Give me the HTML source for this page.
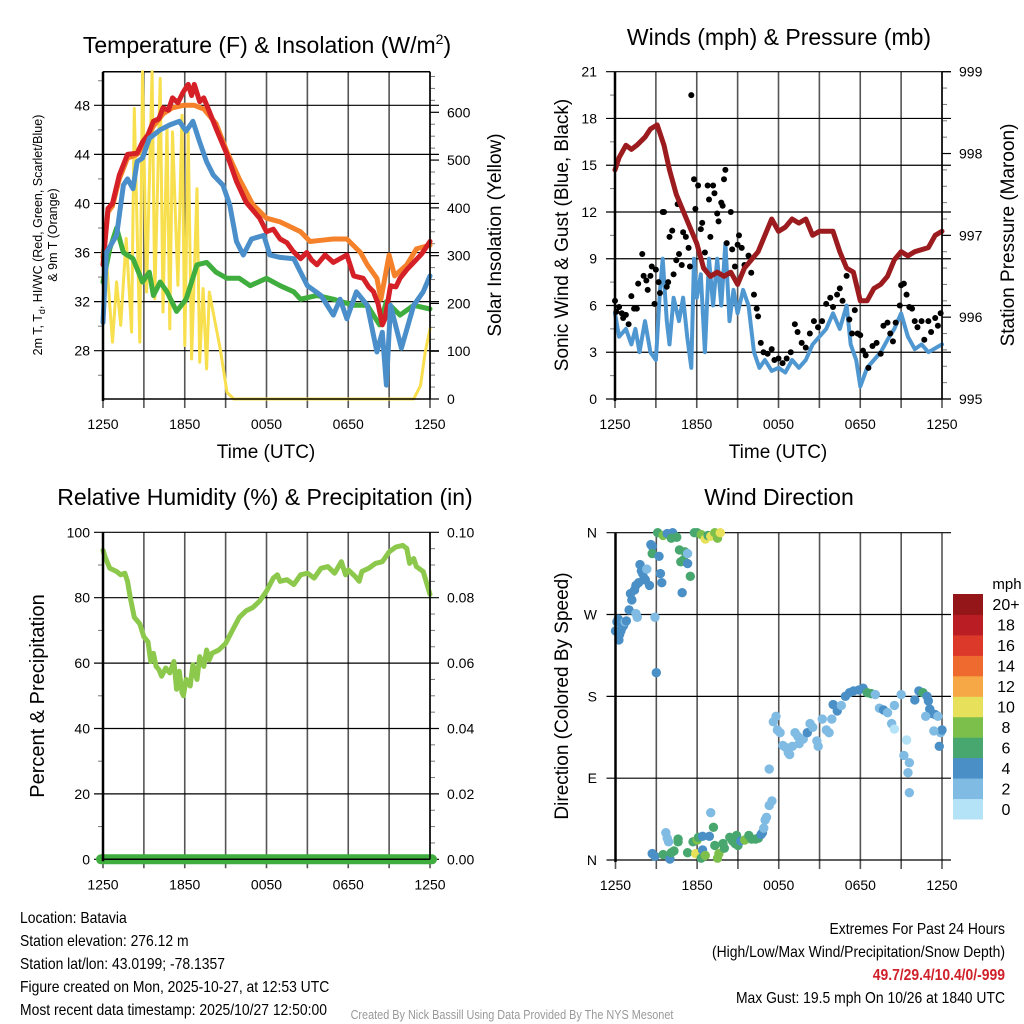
<!DOCTYPE html>
<html><head><meta charset="utf-8"><style>
html,body{margin:0;padding:0;background:#fff;}
svg{display:block;font-family:"Liberation Sans",sans-serif;}
</style></head><body>
<svg id="s" width="1024" height="1024" viewBox="0 0 1024 1024" xmlns="http://www.w3.org/2000/svg"></svg>
<script>
// ---------- DATA ----------
const hourTickLabels = ["1250","1850","0050","0650","1250"];
// Temperature panel
const redT = [0,0.37,0.7,1.2,1.8,2.5,2.9,3.3,3.7,4.1,4.4,4.8,5.1,5.5,5.9,6.25,6.5,6.7,7.1,7.4,7.8,8.3,9.1,9.8,10.5,11.5,12,12.5,13,13.5,13.95,14.5,14.95,15.3,15.7,16.3,16.9,17.4,17.9,18.4,19.1,19.5,19.85,20.2,20.5,20.7,21.1,21.5,21.8,22.3,22.8,23.4,24];
const redV = [35,39.6,40,42.3,44,44.1,45,45.6,46.7,46.9,47.8,47.6,48.6,48.2,49.1,49.7,48.8,49.7,48.3,48.6,47.5,46.1,44,41.8,40.1,38.8,37.7,37.9,37.1,36.8,36.1,35.5,36,35.4,35,35.8,35.2,35.5,35.8,34.1,33.9,33.2,32.8,31.8,30.1,30.6,33.3,33.2,33.9,34.6,35.2,35.9,36.9];
const orangeT = [0,0.37,0.7,1.2,1.8,2.5,2.9,3.7,4.4,5.1,5.9,6.7,7.4,8.3,9.1,10,11,12,13,14.5,15.2,16,16.9,17.9,18.9,19.4,20.1,20.4,21,21.4,22.3,23,24];
const orangeV = [35.6,39.3,39.8,42,43.7,44,44.7,46.3,47.3,47.8,48,48,47.7,46.5,44.2,42,39.9,38.8,38.5,37.7,36.9,37,37.1,37.1,36,35,33.9,32.2,35.8,34.1,35,36.3,36.6];
const blueT = [0,0.25,1,1.5,1.8,2.2,2.5,2.9,3.4,4.2,4.9,5.6,6.1,6.6,7.1,7.6,8.1,8.8,9.3,9.8,10.3,10.9,11.8,12.25,13,14,14.5,15,16,16.9,17.4,17.9,18.6,19.4,20.1,20.5,20.8,21.1,21.9,22.8,23.5,24];
const blueV = [30.3,36,37.4,41.5,42,41.2,43.4,43.7,45.3,46,46.4,46.7,45.9,46.7,45,43.4,42.3,41.5,39.9,36.9,35.8,37.1,37.4,35.8,35.6,35.5,34.4,33.3,32.5,30.9,32.2,30.6,32.8,31.7,27.9,29.5,25.2,31.7,28.2,31.7,32.8,34.1];
const greenT = [0,0.5,1,1.5,2.2,2.9,3.4,3.7,4.2,4.7,5.4,6.1,6.9,7.6,8.3,9.1,10,10.8,12,13,14,14.5,15.7,16.9,18.4,19.4,20.3,20.8,21.8,22.8,24];
const greenV = [33.6,36.3,38,36,35.5,33.6,34.4,32.5,33.6,32.8,31.2,32.2,35,35.2,34.4,33.9,33.9,33.3,33.9,33.3,32.8,32.2,32.5,32.2,31.7,31.7,30.1,32,30.9,31.7,31.4];
const solarT = [0,0.25,0.7,1,1.3,1.7,2.1,2.3,2.7,2.9,3.2,3.6,3.8,4.2,4.4,4.7,4.9,5.1,5.5,5.8,6,6.25,6.5,6.9,7.1,7.35,7.6,7.8,8.6,9.1,9.6,22.8,23.3,23.65,24];
const solarV = [160,294,119,245,154,336,140,608,119,685,224,685,210,671,182,573,147,559,238,594,112,559,84,440,77,231,63,224,105,14,0,0,28,98,147];
// Wind panel
const windT = [0,0.3,0.8,1.2,1.5,1.8,2.2,2.6,3,3.3,3.5,3.8,4,4.3,4.7,5,5.3,5.6,5.8,6,6.3,6.6,6.9,7.2,7.5,7.8,8.1,8.4,8.7,9,9.4,9.8,10.2,10.6,11,11.5,12,12.5,13,13.5,14,14.5,15,15.5,16,16.5,17,17.3,17.7,18,18.5,19,19.5,20,20.5,21,21.5,22,22.5,23,24];
const windV = [5.5,4,4.5,3.5,4.5,3,5,3,2.5,7,9,5,3.5,6.5,5,6.5,4,2,9,6.5,8,3,9,6,9,6,10,5,7,5.5,7,6,3,2,2.5,1.8,2,1.7,2.5,2,2.5,3.5,4,4.5,5.5,4.5,6,3.5,2.5,0.8,2,2.5,3,3.8,4.5,5.5,4,3.2,3.5,3,3.5];
const pressT = [0,0.3,0.8,1.2,1.6,2.2,2.6,3.1,3.6,4,4.5,5,5.5,6,6.5,7,7.5,8,8.5,9,9.5,10,10.5,11,11.5,12,12.5,13,13.5,14,14.5,15,15.5,16,16.5,17,17.5,18,18.5,19,19.5,20,20.5,21,21.5,22,23,23.5,24];
const pressV = [997.8,997.95,998.1,998.05,998.1,998.2,998.3,998.35,998.1,997.8,997.5,997.3,997.1,996.9,996.6,996.5,996.55,996.5,996.55,996.4,996.6,996.7,996.8,997,997.2,997.05,997.1,997.2,997.15,997.2,997,997.05,997.05,997.05,996.8,996.6,996.55,996.2,996.2,996.35,996.4,996.5,996.7,996.8,996.75,996.8,996.85,997,997.05];
const gustT = [0.0,0.1,0.3,0.5,0.6,0.8,1.0,1.2,1.4,1.6,1.7,2.0,2.1,2.3,2.4,2.6,2.7,2.9,3.0,3.2,3.3,3.5,3.6,3.8,3.9,4.0,4.2,4.3,4.5,4.6,4.7,4.9,5.0,5.2,5.4,5.5,5.6,5.8,5.9,6.1,6.3,6.4,6.6,6.8,6.9,7.0,7.2,7.3,7.5,7.6,7.8,7.9,8.0,8.1,8.2,8.5,8.6,8.8,9.0,9.1,9.3,9.5,9.8,10.0,10.2,10.4,10.5,10.7,10.9,11.2,11.5,11.7,12.0,12.3,12.6,12.9,13.2,13.4,13.7,14.0,14.3,14.6,14.9,15.2,15.5,15.8,16.0,16.3,16.5,16.7,17.0,17.2,17.4,17.6,17.8,18.0,18.2,18.4,18.6,18.9,19.2,19.5,19.7,20.0,20.2,20.4,20.6,20.9,21.0,21.2,21.4,21.6,21.8,22.0,22.2,22.5,22.7,23.0,23.2,23.5,23.7,23.9];
const gustV = [6.3,5.6,5.9,5.5,5.2,5.4,4.8,6.6,5.8,5.8,7.4,9.3,7.9,7.6,7.0,7.9,8.5,6.1,8.3,7.5,6.8,12.0,12.0,7.2,7.5,10.4,10.8,8.0,8.9,12.5,9.3,8.6,10.7,10.4,9.7,8.5,19.5,14.1,12.2,13.7,10.9,11.3,9.4,13.7,12.8,10.4,13.7,13.2,11.9,11.4,12.6,12.4,14.1,14.7,10.0,12.0,9.6,8.5,9.9,10.5,9.7,8.6,9.2,8.1,6.7,5.8,5.3,3.6,3.0,2.9,3.2,2.5,2.6,2.3,2.6,3.0,4.8,4.3,3.6,3.3,4.2,5.0,4.6,5.0,6.1,6.5,5.9,6.7,7.1,6.3,7.9,5.1,4.2,5.7,4.2,4.1,3.1,2.8,2.0,3.4,3.6,2.9,4.7,4.9,4.2,3.7,4.9,6.0,7.3,7.4,6.7,5.9,5.8,5.0,4.6,5.0,3.8,5.0,4.3,5.2,4.7,5.5];
// RH panel
const rhT = [0,0.2,0.5,1,1.3,1.6,1.8,2,2.3,2.7,3,3.3,3.5,3.7,3.9,4.1,4.3,4.6,4.9,5.2,5.4,5.6,5.8,5.9,6.1,6.4,6.6,6.9,7.1,7.4,7.6,7.8,8,8.5,9,9.5,10,10.5,11,11.5,12,12.5,12.8,13,13.5,14,14.5,15,15.5,16,16.5,17,17.5,17.8,18,18.5,18.8,19,19.5,20,20.5,21,21.5,22,22.3,22.5,22.8,23,23.5,24];
const rhV = [94.5,92,89,88,87,87.5,85,80,74,72,68,66.5,60.5,63,59,58,56,58.5,57,60.5,52,57.5,51,50,55,53,59.5,55,62,59,64,61,63,64,66,70,74,76,77,79,82,86,87,85,85.5,84,87,87.5,86,89,89.5,87.5,91,87,88.5,86.5,85,88,89,90.5,91,94,95.5,96,95,90.5,92,89.5,88,81];
const precipT = [0,24];
const precipV = [0,0];
// Wind direction panel
const dirT = [0.0,0.1,0.2,0.25,0.3,0.4,0.5,0.6,0.7,0.8,1.0,1.1,1.2,1.4,1.5,1.6,1.5,1.7,1.8,1.9,2.0,2.1,2.2,2.3,2.5,2.6,2.7,2.7,2.9,3.0,3.1,3.2,3.3,3.4,3.5,3.8,4.2,4.3,4.1,4.5,4.7,4.9,4.8,5.0,5.1,5.3,5.3,5.5,5.8,6.0,6.3,6.6,6.8,7.0,7.3,7.5,7.7,
 2.7,2.9,3.5,3.7,3.8,3.9,4.0,4.1,4.3,4.6,4.6,5.3,5.7,5.9,6.0,6.1,6.3,6.4,6.4,6.6,6.9,7.0,7.2,7.3,7.5,7.6,7.9,8.0,8.4,8.6,8.8,8.9,9.0,9.2,9.5,9.8,10.0,10.3,10.5,10.7,10.8,10.9,11.0,11.1,11.3,11.5,
 11.3,11.6,11.8,11.9,12.1,12.3,12.5,12.7,12.8,13.0,13.2,13.4,13.5,13.8,14.1,14.3,14.5,14.8,14.9,15.2,15.5,15.7,15.9,16.0,16.3,16.6,16.9,17.2,17.5,17.9,18.2,18.5,18.8,19.1,19.4,19.7,20.0,20.3,20.5,20.5,21.0,21.2,21.5,21.6,21.4,21.6,22.0,22.3,22.6,22.9,23.1,23.3,23.5,23.7,23.9,24.0,23.8,23.4,22.8,23.0];
const dirDeg = [252,262,265,242,248,252,256,258,262,263,275,293,286,297,271,267,302,305,325,318,315,310,308,320,302,347,345,337,267,206,361,334,315,305,357,359,360,357,354,355,341,294,328,330,339,326,337,312,360,360,358,353,357,356,360,354,360,
 7,4,6,30,24,20,1,8,10,23,20,8,20,7,22,25,2,26,11,5,26,52,36,16,2,7,18,13,25,21,18,27,16,21,22,27,23,23,24,28,30,35,44,47,60,65,
 100,152,158,143,140,126,124,118,116,125,140,136,128,133,140,150,146,131,125,155,143,140,155,171,164,170,180,184,186,187,189,184,183,182,167,165,162,150,144,170,182,115,96,74,132,107,176,186,184,180,166,161,160,158,140,143,125,142,158,175];
const dirSpd = [4.5,4.5,4.5,4.5,4.5,4.5,4.5,4.5,3,4.5,4.5,4.5,4.5,4.5,3,3,4.5,4.5,4.5,4.5,4.5,4.5,4.5,3,4.5,4.5,4.5,7,3,4.5,7,4.5,4.5,4.5,9,4.5,4.5,4.5,7,7,7,4.5,7,7,7,4.5,3,7,7,7,9,10.5,7,10.5,9,9,11,
 4.5,4.5,7,3,3,3,4.5,7,7,7,7,7,7,10.5,9,7,7,4.5,4.5,9,4.5,3,7,7,9,9,7,7,7,7,7,7,7,4.5,9,7,7,7,7,4.5,4.5,3,3,3,3,3,
 3,3,3,3,3,3,3,3,3,3,3,3,3,3,4.5,3,3,3,3,3,3,3,3,4.5,4.5,3,4.5,4.5,4.5,4.5,4.5,7,7,3,3,4.5,3,3,1,3,3,3,3,3,1,3,4.5,4.5,7,4.5,4.5,4.5,4.5,3,3,4.5,4.5,3,3,4.5];
const speedBinLabels = ["0","2","4","6","8","10","12","14","16","18","20+"];
const speedBinColors = ["#b4e2f6","#80bbe3","#4a90c6","#48a76f","#7cc04b","#e6e05a","#f5a845","#ee6a2f","#dc392b","#bb1d25","#951619"];

// ---------- HELPERS ----------
const NS="http://www.w3.org/2000/svg";
const svg=document.getElementById('s');
function el(tag,attrs,parent){const e=document.createElementNS(NS,tag);for(const k in attrs)e.setAttribute(k,attrs[k]);(parent||svg).appendChild(e);return e;}
function txt(x,y,s,size,anchor,parent,extra){const e=el('text',Object.assign({x:x,y:y,'font-size':size,'text-anchor':anchor||'middle',fill:'#000'},extra||{}),parent);e.textContent=s;return e;}
function lin(d0,d1,r0,r1){return v=>r0+(v-d0)*(r1-r0)/(d1-d0);}

function panelFrame(p,name){
  const g=el('g',{});
  
  
  p.g=g;
  p.xs=lin(0,24,p.x0,p.x1);
  for(let h=0;h<=24;h+=3){
    const x=p.xs(h);
    const v=el('line',{x1:x,x2:x,y1:p.yT,y2:p.yB+9,stroke:'#555','stroke-width':1.6},g);
    
    
  }
  hourTickLabels.forEach((s,i)=>{
    const t=txt(p.xs(i*6),p.yB+30,s,14,'middle',g);
    
    
  });
  return g;
}
function hGrid(p,ys,minors){
  const g=p.g;
  ys.forEach(y=>{el('line',{x1:p.x0-9,x2:p.x1+9,y1:y,y2:y,stroke:'#000','stroke-width':1.2},g);});
  minors.forEach(m=>{el('line',{x1:m.side==='r'?p.x1:p.x0-5,x2:m.side==='r'?p.x1+5:p.x0,y1:m.y,y2:m.y,stroke:'#777','stroke-width':1},g);});
}
function rTicks(p,ys){ys.forEach(y=>{el('line',{x1:p.x1,x2:p.x1+9,y1:y,y2:y,stroke:'#000','stroke-width':1.2},p.g);});}
function border(p){
  el('line',{x1:p.x0,x2:p.x0,y1:p.yT,y2:p.yB+2,stroke:'#000','stroke-width':2.5},p.g);
  el('line',{x1:p.x1,x2:p.x1,y1:p.yT,y2:p.yB,stroke:'#000','stroke-width':1.5},p.g);
  el('line',{x1:p.x0,x2:p.x1,y1:p.yB,y2:p.yB,stroke:'#000','stroke-width':1.5},p.g);
}
function path(p,ts,vs,ys,color,w,name){
  let d='';
  ts.forEach((t,i)=>{d+=(i?'L':'M')+p.xs(t).toFixed(1)+','+ys(vs[i]).toFixed(1);});
  const e=el('path',{d:d,fill:'none',stroke:color,'stroke-width':w,'stroke-linejoin':'round','stroke-linecap':'round'},p.g);
  
  
  return e;
}

// ---------- PANEL 1: Temperature ----------
const p1={x0:103,x1:430,yT:71.7,yB:399};
panelFrame(p1,'temperature-panel');
const yTemp=lin(28,48,350.7,105.3);
const ySol=lin(0,600,399,112.3);
{
  const majors=[28,32,36,40,44,48];
  const minors=[];
  for(let v=26;v<=50;v+=2){if(majors.indexOf(v)<0)minors.push({y:yTemp(v),side:'l'});}
  for(let v=25;v<=675;v+=25){if(v%100)minors.push({y:ySol(v),side:'r'});}
  hGrid(p1,majors.map(yTemp),minors);
  rTicks(p1,[0,100,200,300,400,500,600].map(ySol));
  majors.forEach(v=>{const t=txt(90,yTemp(v)+5,String(v),14,'end',p1.g);});
  [0,100,200,300,400,500,600].forEach(v=>{const t=txt(447,ySol(v)+5,String(v),14,'start',p1.g);});
  el('line',{x1:p1.x0,x2:p1.x1,y1:p1.yT,y2:p1.yT,stroke:'#000','stroke-width':1.5},p1.g);
}
path(p1,solarT,solarV,ySol,'#f7df4e',3,'solar-insolation-line');
path(p1,greenT,greenV,yTemp,'#3fae3e',5,'dewpoint-line');
path(p1,orangeT,orangeV,yTemp,'#f5822a',5,'temp-9m-line');
path(p1,redT,redV,yTemp,'#d42026',5,'temp-2m-line');
path(p1,blueT,blueV,yTemp,'#4a8fca',5,'windchill-line');
border(p1);
{
  const t=txt(267,53,'Temperature (F) & Insolation (W/m',23,'middle');
  const sup=el('tspan',{dy:-9,'font-size':14},t);sup.textContent='2';
  const cl=el('tspan',{dy:9},t);cl.textContent=')';
  
  
  const a=txt(266,458,'Time (UTC)',19,'middle');
  
  
  const g=el('g',{transform:'translate(42,235) rotate(-90)'});
  
  
  const l1=txt(0,0,'2m T, T',12.5,'middle',g);
  const sb=el('tspan',{dy:3,'font-size':9},l1);sb.textContent='d';
  const rest=el('tspan',{dy:-3},l1);rest.textContent=', HI/WC (Red, Green, Scarlet/Blue)';
  txt(0,15,'& 9m T (Orange)',12.5,'middle',g);
  const r=txt(0,0,'Solar Insolation (Yellow)',19,'middle',null,{transform:'translate(501,235) rotate(-90)'});
  
  
}

// ---------- PANEL 2: Winds ----------
const p2={x0:615,x1:942,yT:71.7,yB:399};
panelFrame(p2,'winds-panel');
const yWind=lin(0,21,399,71.7);
const yPres=lin(995,999,399,71.7);
{
  const majors=[0,3,6,9,12,15,18,21];
  const minors=[];
  for(let v=1.5;v<21;v+=3)minors.push({y:yWind(v),side:'l'});
  for(let v=995.2;v<999;v+=0.2){if(Math.abs(v-Math.round(v))>0.05)minors.push({y:yPres(v),side:'r'});}
  hGrid(p2,majors.map(yWind),minors);
  rTicks(p2,[995,996,997,998,999].map(yPres));
  majors.forEach(v=>{const t=txt(597,yWind(v)+5,String(v),14,'end',p2.g);});
  [995,996,997,998,999].forEach(v=>{const t=txt(959,yPres(v)+5,String(v),14,'start',p2.g);});
}
path(p2,windT,windV,yWind,'#4f97d1',4,'sonic-wind-line');
gustT.forEach((t,i)=>{
  const c=el('circle',{cx:p2.xs(t),cy:yWind(gustV[i]),r:3,fill:'#000'},p2.g);
  
  
});
path(p2,pressT,pressV,yPres,'#9b1b1e',5,'pressure-line');
border(p2);
{
  const t=txt(779,45,'Winds (mph) & Pressure (mb)',23,'middle');
  
  const a=txt(778,458,'Time (UTC)',19,'middle');
  
  const l=txt(0,0,'Sonic Wind & Gust (Blue, Black)',19,'middle',null,{transform:'translate(568,235) rotate(-90)'});
  
  const r=txt(0,0,'Station Pressure (Maroon)',19,'middle',null,{transform:'translate(1014,235) rotate(-90)'});
  
}

// ---------- PANEL 3: RH ----------
const p3={x0:103,x1:430,yT:532.3,yB:859.3};
panelFrame(p3,'humidity-panel');
const yRH=lin(0,100,859.3,532.3);
const yPr=lin(0,0.1,859.3,532.3);
{
  const majors=[0,20,40,60,80,100];
  const minors=[];
  for(let v=10;v<100;v+=20)minors.push({y:yRH(v),side:'l'});
  for(let v=5;v<100;v+=5){if(v%20)minors.push({y:yRH(v),side:'r'});}
  hGrid(p3,majors.map(yRH),minors);
  majors.forEach(v=>{const t=txt(90,yRH(v)+5,String(v),14,'end',p3.g);});
  ['0.00','0.02','0.04','0.06','0.08','0.10'].forEach((s,i)=>{const t=txt(447,yPr(i*0.02)+5,s,14,'start',p3.g);});
}
path(p3,rhT,rhV,yRH,'#8cc84b',5,'relative-humidity-line');
{
  const pr=path(p3,precipT,precipV,yPr,'#3fae3e',10,'precipitation-line');
  pr.setAttribute('d','M'+(p3.xs(precipT[0])-2)+','+yPr(precipV[0])+'L'+(p3.xs(precipT[1])+2)+','+yPr(precipV[1]));
}
el('line',{x1:p3.x0,x2:p3.x1,y1:p3.yB,y2:p3.yB,stroke:'#000','stroke-width':1.5},p3.g);
el('line',{x1:p3.x0,x2:p3.x0,y1:p3.yT,y2:p3.yB+2,stroke:'#000','stroke-width':2.5},p3.g);
el('line',{x1:p3.x1,x2:p3.x1,y1:p3.yT,y2:p3.yB,stroke:'#000','stroke-width':1.5},p3.g);
{
  const t=txt(265,505,'Relative Humidity (%) & Precipitation (in)',23,'middle');
  
  const l=txt(0,0,'Percent & Precipitation',20,'middle',null,{transform:'translate(44,696) rotate(-90)'});
  
}

// ---------- PANEL 4: Wind Direction ----------
const p4={x0:615.5,x1:942,yT:532.7,yB:860};
panelFrame(p4,'wind-direction-panel');
const yDir=lin(0,360,860,532.7);
{
  const majors=[0,90,180,270,360];
  hGrid(p4,majors.map(yDir),[]);
  ['N','E','S','W','N'].forEach((s,i)=>{const t=txt(597,yDir(i*90)+5,s,14,'end',p4.g);});
}
function binColor(s){let b=Math.floor(s/2);if(b>10)b=10;if(b<0)b=0;return speedBinColors[b];}
dirT.forEach((t,i)=>{
  const c=el('circle',{cx:p4.xs(t),cy:yDir(Math.min(dirDeg[i],360)),r:4.7,fill:binColor(dirSpd[i])},p4.g);
  
  
});
el('line',{x1:p4.x0,x2:p4.x0,y1:p4.yT,y2:p4.yB+2,stroke:'#000','stroke-width':2.5},p4.g);
{
  const t=txt(779,505,'Wind Direction',23,'middle');
  
  const l=txt(0,0,'Direction (Colored By Speed)',19,'middle',null,{transform:'translate(568,696) rotate(-90)'});
  
  const lg=el('g',{});
  
  
  const bh=(819-594)/11;
  speedBinColors.forEach((c,i)=>{
    const y=819-(i+1)*bh;
    const r=el('rect',{x:953,y:y,width:30,height:bh+0.5,fill:c},lg);
    
    
    const t=txt(1006,y+bh/2+6,speedBinLabels[i],16,'middle',lg);
    
    
  });
  const u=txt(1007,589,'mph',15,'middle',lg);
  
  
}

// ---------- FOOTER ----------
{
  const left=['Location: Batavia','Station elevation: 276.12 m','Station lat/lon: 43.0199; -78.1357','Figure created on Mon, 2025-10-27, at 12:53 UTC','Most recent data timestamp: 2025/10/27 12:50:00'];
  const g=el('g',{transform:'translate(20,0) scale(0.87,1)'});
  
  
  left.forEach((s,i)=>{txt(0,923+i*23,s,16,'start',g);});
  const r=el('g',{transform:'translate(1005,0) scale(0.87,1)'});
  
  
  txt(0,934,'Extremes For Past 24 Hours',16,'end',r);
  txt(0,957,'(High/Low/Max Wind/Precipitation/Snow Depth)',16,'end',r);
  txt(0,980,'49.7/29.4/10.4/0/-999',16,'end',r,{fill:'#d0202a','font-weight':'bold'});
  txt(0,1003,'Max Gust: 19.5 mph On 10/26 at 1840 UTC',16,'end',r);
  const c=el('g',{transform:'translate(512,0) scale(0.87,1)'});
  
  
  txt(0,1019,'Created By Nick Bassill Using Data Provided By The NYS Mesonet',12.5,'middle',c,{fill:'#999'});
}
</script>
</body></html>
